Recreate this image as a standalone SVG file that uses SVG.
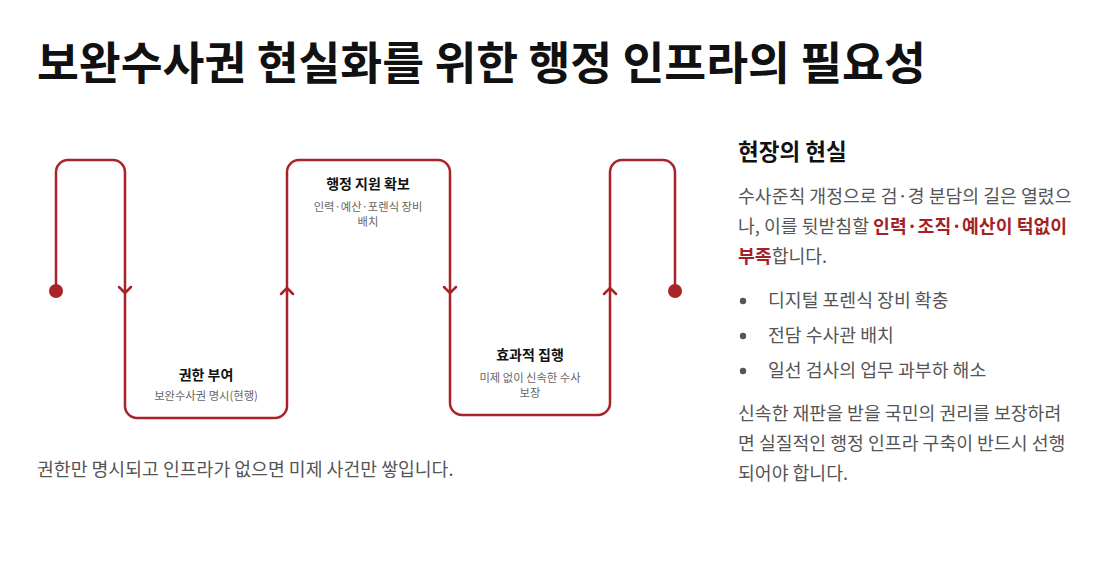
<svg xmlns="http://www.w3.org/2000/svg" width="1114" height="579" viewBox="0 0 1114 579">
<style>
text{font-family:"Noto Sans CJK KR","Noto Sans",sans-serif}
.title{font-size:45.5px;font-weight:700;fill:#111}
.nt{font-size:14px;font-weight:700;fill:#111;text-anchor:middle}
.ns{font-size:11.3px;fill:#666;text-anchor:middle}
.h{font-size:22.5px;font-weight:700;fill:#111}
.p{font-size:18.3px;fill:#555}
.em{font-weight:700;fill:#a51f26}
.line{fill:none;stroke:#a8232a;stroke-width:2.5;stroke-linecap:round;stroke-linejoin:round}
</style>
<rect width="1114" height="579" fill="#fff"/>
<text class="title" x="37" y="80">보완수사권 현실화를 위한 행정 인프라의 필요성</text>
<g id="connectors">
<path class="line" d="M56,291 V172 A12,12 0 0 1 68,160 H113 A12,12 0 0 1 125,172 V406 A12,12 0 0 0 137,418 H275 A12,12 0 0 0 287,406 V172 A12,12 0 0 1 299,160 H438 A12,12 0 0 1 450,172 V403 A12,12 0 0 0 462,415 H598 A12,12 0 0 0 610,403 V172 A12,12 0 0 1 622,160 H663 A12,12 0 0 1 675,172 V291"/>
<path class="line" d="M119,287 L125,293 L131,287"/>
<path class="line" d="M281,294 L287,288 L293,294"/>
<path class="line" d="M444,287 L450,293 L456,287"/>
<path class="line" d="M604,294 L610,288 L616,294"/>
<circle cx="56" cy="291" r="7" fill="#a8232a"/>
<circle cx="675" cy="291" r="7" fill="#a8232a"/>
</g>
<g id="node-grant">
<text class="nt" x="206" y="380">권한 부여</text>
<text class="ns" x="206" y="400">보완수사권 명시(현행)</text>
</g>
<g id="node-admin">
<text class="nt" x="368" y="189">행정 지원 확보</text>
<text class="ns" x="368" y="211">인력·예산·포렌식 장비</text>
<text class="ns" x="368" y="226">배치</text>
</g>
<g id="node-exec">
<text class="nt" x="530" y="360">효과적 집행</text>
<text class="ns" x="530" y="382">미제 없이 신속한 수사</text>
<text class="ns" x="530" y="397">보장</text>
</g>
<text class="p" x="37" y="476">권한만 명시되고 인프라가 없으면 미제 사건만 쌓입니다.</text>
<g id="panel">
<text class="h" x="738" y="160">현장의 현실</text>
<text class="p" x="738" y="203">수사준칙 개정으로 검·경 분담의 길은 열렸으</text>
<text class="p" x="738" y="233">나, 이를 뒷받침할 <tspan class="em">인력·조직·예산이 턱없이</tspan></text>
<text class="p" x="738" y="263"><tspan class="em">부족</tspan>합니다.</text>
<circle cx="743" cy="301" r="3.2" fill="#555"/>
<text class="p" x="768" y="307">디지털 포렌식 장비 확충</text>
<circle cx="743" cy="336" r="3.2" fill="#555"/>
<text class="p" x="768" y="342">전담 수사관 배치</text>
<circle cx="743" cy="371" r="3.2" fill="#555"/>
<text class="p" x="768" y="377">일선 검사의 업무 과부하 해소</text>
<text class="p" x="738" y="420">신속한 재판을 받을 국민의 권리를 보장하려</text>
<text class="p" x="738" y="450">면 실질적인 행정 인프라 구축이 반드시 선행</text>
<text class="p" x="738" y="480">되어야 합니다.</text>
</g>
</svg>
